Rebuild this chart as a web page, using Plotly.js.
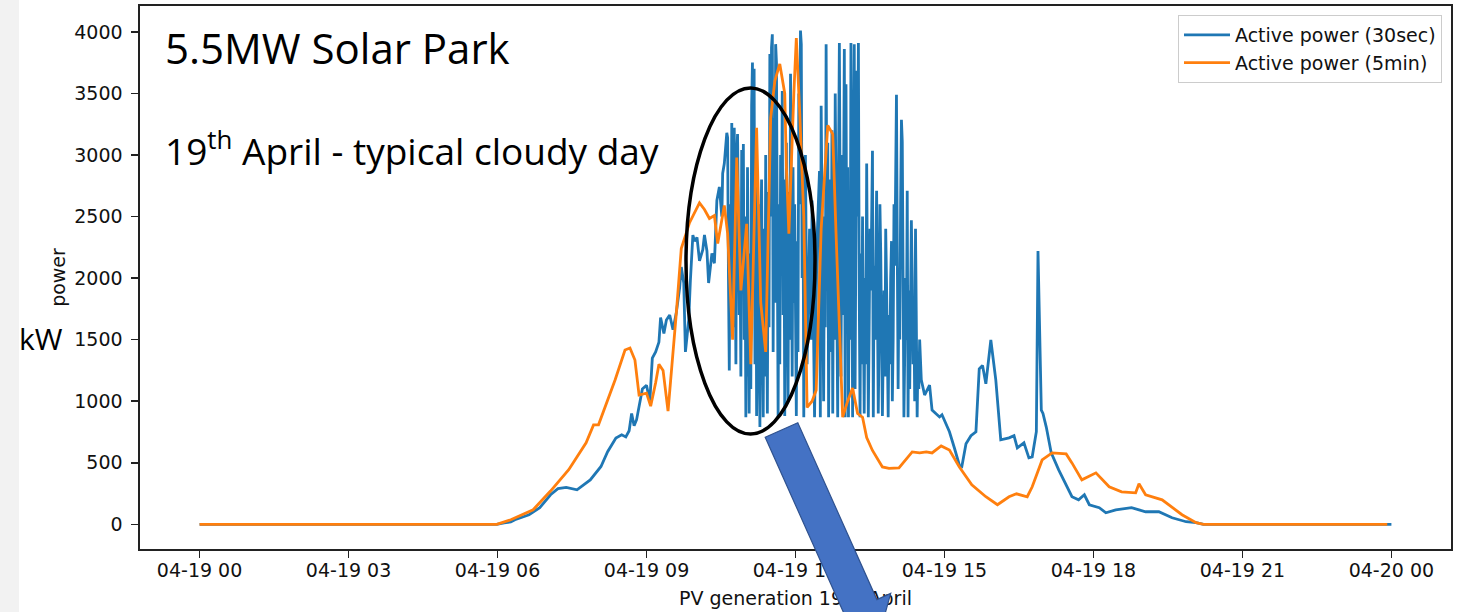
<!DOCTYPE html>
<html>
<head>
<meta charset="utf-8">
<script src="https://cdn.plot.ly/plotly-3.0.1.min.js"></script>
<style>
  html, body { margin: 0; padding: 0; background: #ffffff; }
  #chart { width: 1457px; height: 612px; }
</style>
</head>
<body>
<div id="chart"></div>
<script>
// ---------------- DATA ----------------
const dayLabel = '2019-04-19';
const nextDayLabel = '2019-04-20';

const blueName = 'Active power (30sec)';
const blueTimes = ['00:00','05:59','06:08','06:16','06:21','06:38','06:51','07:04','07:13','07:23','07:36','07:52','08:05','08:13','08:23','08:30','08:35','08:39','08:42','08:45','08:48','08:55','09:00','09:04','09:07','09:11','09:15','09:17','09:21','09:24','09:28','09:32','09:36','09:40','09:42','09:45','09:47','09:51','09:53','09:56','09:58','10:01','10:04','10:08','10:10','10:13','10:15','10:19','10:22','10:25','10:28','10:31','10:32','10:34','10:37','10:38','10:39','10:40','10:41','10:42','10:43','10:44','10:45','10:46','10:47','10:48','10:49','10:50','10:51','10:52','10:53','10:54','10:55','10:56','10:57','10:58','10:59',
'11:00','11:01','11:01:30','11:02','11:03','11:04','11:05','11:06','11:07','11:08','11:09','11:10','11:11','11:12','11:13','11:14','11:15','11:16','11:17','11:18','11:19','11:20','11:21','11:22','11:23','11:24','11:25','11:26','11:27','11:28','11:29','11:30','11:31','11:32','11:33','11:34','11:35','11:36','11:37','11:38','11:39','11:40','11:41','11:42','11:43','11:44','11:45','11:46','11:47','11:48','11:49','11:50','11:51','11:52','11:53','11:54','11:55','11:56','11:57','11:58','11:59','12:00','12:01','12:02','12:03','12:04','12:05','12:06','12:07','12:08','12:09','12:10',
'12:12','12:14','12:17','12:19','12:20','12:23','12:26','12:29','12:30','12:31','12:34','12:35','12:36','12:37','12:38','12:39','12:40','12:41','12:42','12:43','12:44','12:45','12:46','12:47','12:48','12:49','12:50','12:51','12:52','12:53','12:54','12:55','12:56','12:57','12:58','12:59','13:00','13:01','13:02','13:03','13:04','13:05','13:06','13:07','13:08','13:09','13:10','13:11','13:12','13:13','13:14','13:15','13:16','13:17','13:18','13:19','13:20','13:21','13:22','13:23','13:24','13:25','13:26','13:27','13:28','13:29','13:30','13:31','13:32','13:33','13:34','13:35','13:36','13:37','13:38','13:39','13:40','13:41','13:42','13:43','13:44','13:45','13:46','13:47','13:48','13:49','13:50','13:51','13:52','13:53','13:54','13:55','13:56','13:57','13:58','13:59','14:00','14:01','14:02','14:03','14:04','14:05','14:06','14:07','14:08','14:09','14:10','14:11','14:12','14:13','14:14','14:15','14:16','14:17','14:18','14:19','14:20','14:21','14:22','14:23','14:24','14:25','14:26','14:27','14:28','14:29','14:30',
'14:32','14:36','14:42','14:45','14:54','14:57','15:06','15:12','15:18','15:21','15:26','15:32','15:38','15:42','15:46','15:50','15:56','16:02','16:08','16:18','16:24','16:28','16:36','16:42','16:46','16:51','16:53','16:57','16:59','17:03','17:09','17:18','17:34','17:42','17:49','17:55','18:07','18:15','18:27','18:46','19:03','19:19','19:35','19:52','20:04','20:13','24:00'];
const blueValues = [0,0,12,20,37,78,135,240,290,300,280,361,470,590,700,727,710,760,900,800,850,1100,1130,1000,1350,1400,1480,1680,1550,1660,1700,1580,1720,1920,2090,1960,1400,1660,1980,2350,2300,2330,2140,2230,2350,2220,1960,2200,2120,2630,2740,2500,2850,2930,3180,3140,2000,1250,2600,1800,3260,2500,1600,3220,2400,1300,3010,3170,2500,1700,2200,1200,3040,2000,3090,1500,2500,
870,2500,1200,2900,1500,900,2200,1100,3400,3750,2000,3700,1300,3200,880,1900,2600,1500,790,2300,2800,1600,870,2400,1200,3000,2000,900,2700,1600,3820,2500,3870,3980,1400,3300,1800,3900,3750,2200,870,2600,1300,3000,2100,3520,1700,2800,880,2000,3100,2200,1000,2700,1500,3660,2400,1200,2900,1800,2600,1500,880,2300,1400,3500,2600,4010,3900,2000,2900,870,
3000,1300,2400,1500,2630,870,2300,2870,870,3400,1000,2500,1600,3900,2200,3100,870,2000,2800,1400,3200,900,2400,1500,3500,2600,1800,870,2900,3910,2500,1200,3000,1700,2600,3860,870,3575,2000,2900,870,2300,1500,3910,2400,870,2800,3900,1100,2600,3685,2500,3910,1900,870,2200,1300,2500,1500,900,2000,1300,2930,1800,870,1600,2400,1900,2600,3035,870,2100,1500,2300,2710,1800,900,1500,2600,2200,1700,880,1400,1900,1200,2400,1960,1500,870,1700,1300,2000,2300,1000,1500,2600,2100,2800,3490,2200,1100,2000,1500,2600,3285,3110,2100,870,1400,2000,1500,2710,870,1900,1100,1800,2470,2000,1300,1800,1000,2400,1600,870,1400,1100,1500,
1173,1050,1131,928,872,890,752,620,480,470,654,720,752,1262,1290,1142,1497,1173,686,702,720,621,662,540,548,752,2220,928,900,790,580,442,224,199,240,159,135,94,118,135,102,102,53,21,13,0,0];

const orangeName = 'Active power (5min)';
const orangeTimes = ['00:00','05:59','06:16','06:43','07:04','07:26','07:47','07:56','08:02','08:10','08:22','08:34','08:40','08:46','08:51','09:00','09:05','09:11','09:15','09:20','09:26','09:36','09:42','09:52','10:04','10:10','10:16','10:22','10:26','10:34','10:38','10:44','10:49','10:54','11:01','11:06','11:13','11:18','11:24','11:30','11:35','11:41','11:47','11:49','11:52','11:58','12:01','12:05','12:10','12:14','12:20','12:25','12:31','12:39','12:45','12:49','12:57','13:03','13:09','13:15','13:21','13:26','13:33','13:45','13:53','14:05','14:21','14:30','14:38','14:45','14:56','15:06','15:18','15:33','15:50','16:04','16:18','16:27','16:40','16:46','16:58','17:10','17:27','17:34','17:46','18:03','18:19','18:34','18:51','18:55','19:03','19:23','19:35','19:47','20:04','20:13','23:55'];
const orangeValues = [0,0,37,118,270,443,662,808,808,950,1172,1416,1432,1334,1050,1066,960,1150,1300,1250,920,1715,2240,2450,2610,2557,2484,2508,2281,2590,2362,1500,2980,1900,2440,1300,3220,1800,1400,3300,3600,3740,3500,2900,2360,3500,3950,3360,2500,950,1000,1090,2400,3240,3170,2360,870,1000,1108,900,870,705,600,466,455,458,588,580,588,580,637,604,466,321,224,159,224,248,224,305,523,580,572,499,361,418,305,264,256,329,240,199,135,78,13,0,0];

const yTickValues = [0,500,1000,1500,2000,2500,3000,3500,4000];
const xTitleText = 'PV generation 19th April';
const yTitleText = 'power';
const headline = '5.5MW Solar Park';
const subline = '19<sup>th</sup> April - typical cloudy day';
const unitLabel = 'kW';

// ---------------- helpers ----------------
function toDate(t) {
  return t === '24:00' ? nextDayLabel + ' 00:00' : dayLabel + ' ' + t;
}

// plot-area geometry (pixels) used for placing the slide overlays
const W = 1457, H = 612;
const M = { l: 140, r: 6, t: 6, b: 63 };
const PW = W - M.l - M.r, PH = H - M.t - M.b;
const px = x => (x - M.l) / PW;
const py = y => (H - M.b - y) / PH;

// block arrow (pixel coordinates of the slide drawing)
const arrowPts = [[765.2,437.3],[797.8,422.7],[876.9,599.6],[890.7,593.4],[876.9,643.4],[830.5,620.4],[844.3,614.2]];
const arrowPath = 'M' + arrowPts.map(p => px(p[0]).toFixed(5) + ',' + py(p[1]).toFixed(5)).join(' L') + ' Z';

const mplFont = 'DejaVu Sans, sans-serif';
const slideFont = 'Open Sans, Noto Sans, sans-serif';

const data = [
  {
    type: 'scatter', mode: 'lines', name: blueName, legendgroup: 'a',
    x: blueTimes.map(toDate), y: blueValues,
    line: { color: '#1f77b4', width: 2.8 }
  },
  {
    type: 'scatter', mode: 'lines', name: orangeName, legendgroup: 'b',
    x: orangeTimes.map(toDate), y: orangeValues,
    line: { color: '#ff7f0e', width: 2.8 }
  }
];

const axisCommon = {
  showgrid: false, zeroline: false,
  showline: true, mirror: true, linecolor: '#222', linewidth: 1.6,
  ticks: 'outside', ticklen: 7, tickwidth: 1.6, tickcolor: '#222',
  tickfont: { family: mplFont, size: 19, color: '#111' },
  automargin: false
};

const layout = {
  width: W, height: H,
  margin: { l: M.l, r: M.r, t: M.t, b: M.b, pad: 0 },
  paper_bgcolor: '#ffffff', plot_bgcolor: '#ffffff',
  showlegend: true,
  legend: {
    x: px(1442), xanchor: 'right', y: py(15), yanchor: 'top',
    bgcolor: 'rgba(255,255,255,0.85)', bordercolor: '#cccccc', borderwidth: 1,
    font: { family: mplFont, size: 19, color: '#111' },
    traceorder: 'grouped', tracegroupgap: 0, itemwidth: 46
  },
  xaxis: Object.assign({}, axisCommon, {
    type: 'date',
    range: ['2019-04-18 22:48', '2019-04-20 01:12'],
    tick0: '2019-04-19 00:00', dtick: 3 * 3600 * 1000,
    tickformat: '%m-%d %H',
    ticklabelstandoff: -3,
    title: { text: xTitleText, font: { family: mplFont, size: 19, color: '#111' }, standoff: 11 }
  }),
  yaxis: Object.assign({}, axisCommon, {
    range: [-200.5, 4210],
    tickmode: 'array', tickvals: yTickValues, ticktext: yTickValues.map(String),
    ticklabelstandoff: 5,
    title: { text: yTitleText, font: { family: mplFont, size: 19, color: '#111' }, standoff: 3 }
  }),
  shapes: [
    { type: 'rect', xref: 'paper', yref: 'paper', layer: 'below',
      x0: px(0), x1: px(19), y0: py(H), y1: py(0),
      fillcolor: '#f2f2f2', line: { width: 0 } },
    { type: 'circle', xref: 'paper', yref: 'paper', layer: 'above',
      x0: px(686), x1: px(815), y0: py(434), y1: py(88),
      line: { color: '#000000', width: 3.5 }, fillcolor: 'rgba(0,0,0,0)' },
    { type: 'path', xref: 'paper', yref: 'paper', layer: 'above',
      path: arrowPath, fillcolor: '#4472c4', line: { color: '#2f528f', width: 1.2 } }
  ],
  annotations: [
    { xref: 'paper', yref: 'paper', x: px(163), y: py(78), xanchor: 'left', yanchor: 'bottom',
      text: headline, showarrow: false, font: { family: slideFont, size: 42, color: '#000' } },
    { xref: 'paper', yref: 'paper', x: px(163), y: py(178), xanchor: 'left', yanchor: 'bottom',
      text: subline, showarrow: false, font: { family: slideFont, size: 37, color: '#000' } },
    { xref: 'paper', yref: 'paper', x: px(17), y: py(361), xanchor: 'left', yanchor: 'bottom',
      text: unitLabel, showarrow: false, font: { family: slideFont, size: 30, color: '#000' } }
  ]
};

Plotly.newPlot('chart', data, layout, { staticPlot: true, displayModeBar: false }).then(gd => {
  // the slide arrow lies over the x-axis caption: put the caption beneath the overlay shapes
  const t = gd.querySelector('.infolayer .g-xtitle');
  const above = gd.querySelector('.layer-above');
  if (t && above) above.insertBefore(t, above.firstChild);
});
</script>
</body>
</html>
